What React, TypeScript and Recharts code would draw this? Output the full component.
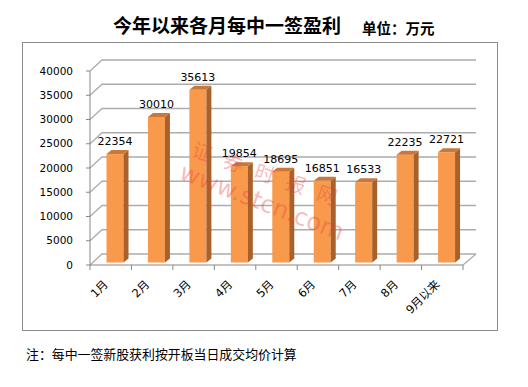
import React from "react";
import { BarChart, Bar, XAxis, YAxis, CartesianGrid, LabelList } from "recharts";

const months = ["1月", "2月", "3月", "4月", "5月", "6月", "7月", "8月", "9月以来"];
const profit = [22354, 30010, 35613, 19854, 18695, 16851, 16533, 22235, 22721];
const yTicks = [0, 5000, 10000, 15000, 20000, 25000, 30000, 35000, 40000];

const data = months.map((m, i) => ({ name: m, value: profit[i] }));

const FONT = "'DejaVu Sans', 'Noto Sans CJK SC', sans-serif";
const CJK = "'Noto Sans CJK SC', sans-serif";

// bar sits a little back from the front edge of the floor
const SHIFT_X = 4.5;
const SHIFT_Y = -2.5;

const Bar3D = (props: any) => {
  const { x, y, width, height } = props;
  const fx = x + SHIFT_X;
  const fy = y + SHIFT_Y;
  const d = 5;
  const up = 4;
  return (
    <g>
      <rect x={fx} y={fy} width={width} height={height} fill="#F8994B" />
      <polygon
        points={`${fx + width},${fy} ${fx + width + d},${fy - up} ${fx + width + d},${fy + height - up} ${fx + width},${fy + height}`}
        fill="#A9612B"
      />
      <polygon
        points={`${fx},${fy} ${fx + d},${fy - up} ${fx + width + d},${fy - up} ${fx + width},${fy}`}
        fill="#C9783A"
      />
    </g>
  );
};

const ValueLabel = (props: any) => {
  const { x, y, width, value } = props;
  return (
    <text
      x={x + width / 2 + SHIFT_X}
      y={y + SHIFT_Y - 9}
      textAnchor="middle"
      fontSize={11}
      fontFamily={FONT}
      fill="#000"
    >
      {value}
    </text>
  );
};

// back wall lines with the diagonal on the left wall
const wallLine = (p: any) => {
  const { x1, y1, x2, index } = p;
  const bottom = p.y + p.height;
  return (
    <g key={`wall-${index}`}>
      <path
        d={`M${x1},${y1}L${x1 + 12},${y1 - 11}L${x2 + 13},${y1 - 11}`}
        fill="none"
        stroke="#acacac"
        strokeWidth={1.3}
      />
      {Math.abs(y1 - bottom) < 1 && (
        <line x1={x2} y1={y1} x2={x2 + 13} y2={y1 - 11} stroke="#acacac" strokeWidth={1.3} />
      )}
    </g>
  );
};

const MonthTick = (props: any) => {
  const { x, y, payload, index } = props;
  const half = 373 / 9 / 2;
  const ax = x - 2;
  const ay = y + 20;
  return (
    <g>
      <line x1={x - half} y1={y} x2={x - half} y2={y + 5} stroke="#878787" />
      {index === months.length - 1 && (
        <line x1={x + half} y1={y} x2={x + half} y2={y + 5} stroke="#878787" />
      )}
      <text
        x={ax}
        y={ay}
        textAnchor="end"
        fontSize={11.5}
        fontFamily={FONT}
        fill="#000"
        transform={`rotate(-45 ${ax} ${ay})`}
      >
        {payload.value}
      </text>
    </g>
  );
};

export default function App() {
  return (
    <div
      style={{
        position: "absolute",
        left: 0,
        top: 0,
        width: 528,
        height: 387,
        background: "#fff",
        overflow: "hidden",
      }}
    >
      <div
        style={{
          position: "absolute",
          left: 113,
          top: 15,
          fontFamily: CJK,
          fontWeight: 700,
          fontSize: 19,
          lineHeight: 1,
          whiteSpace: "nowrap",
        }}
      >
        今年以来各月每中一签盈利
      </div>
      <div
        style={{
          position: "absolute",
          left: 362,
          top: 21,
          fontFamily: CJK,
          fontWeight: 700,
          fontSize: 14.5,
          lineHeight: 1,
          whiteSpace: "nowrap",
        }}
      >
        单位：万元
      </div>
      <div
        style={{
          position: "absolute",
          left: 22,
          top: 42,
          width: 476,
          height: 289,
          border: "1px solid #8c8c8c",
          boxSizing: "border-box",
        }}
      />
      <div style={{ position: "absolute", left: 0, top: 0 }}>
        <BarChart
          width={528}
          height={387}
          data={data}
          margin={{ top: 71, right: 65, bottom: 62, left: 0 }}
        >
          <CartesianGrid vertical={false} horizontal={wallLine} />
          <XAxis
            dataKey="name"
            interval={0}
            height={60}
            axisLine={{ stroke: "#878787" }}
            tickLine={false}
            tickSize={0}
            tickMargin={0}
            tick={<MonthTick />}
          />
          <YAxis
            width={90}
            domain={[0, 40000]}
            ticks={yTicks}
            interval={0}
            axisLine={{ stroke: "#878787" }}
            tickLine={{ stroke: "#878787" }}
            tickSize={4}
            tickMargin={13}
            tick={{ fontSize: 10.5, fontFamily: FONT, fill: "#000" }}
          />
          <Bar dataKey="value" barSize={17} shape={<Bar3D />} isAnimationActive={false}>
            <LabelList dataKey="value" content={<ValueLabel />} />
          </Bar>
        </BarChart>
      </div>
      <div
        style={{
          position: "absolute",
          left: 198,
          top: 134,
          transform: "rotate(19deg)",
          transformOrigin: "0 0",
          fontFamily: CJK,
          fontSize: 20,
          letterSpacing: 13,
          color: "rgba(232, 60, 60, 0.35)",
          whiteSpace: "nowrap",
          pointerEvents: "none",
        }}
      >
        证券时报网
      </div>
      <div
        style={{
          position: "absolute",
          left: 186,
          top: 158,
          transform: "rotate(21deg)",
          transformOrigin: "0 0",
          fontFamily: FONT,
          fontSize: 24,
          color: "rgba(232, 60, 60, 0.35)",
          whiteSpace: "nowrap",
          pointerEvents: "none",
        }}
      >
        www.stcn.com
      </div>
      <div
        style={{
          position: "absolute",
          left: 26,
          top: 348,
          fontFamily: CJK,
          fontSize: 12.9,
          lineHeight: 1,
          whiteSpace: "nowrap",
        }}
      >
        注：每中一签新股获利按开板当日成交均价计算
      </div>
    </div>
  );
}
